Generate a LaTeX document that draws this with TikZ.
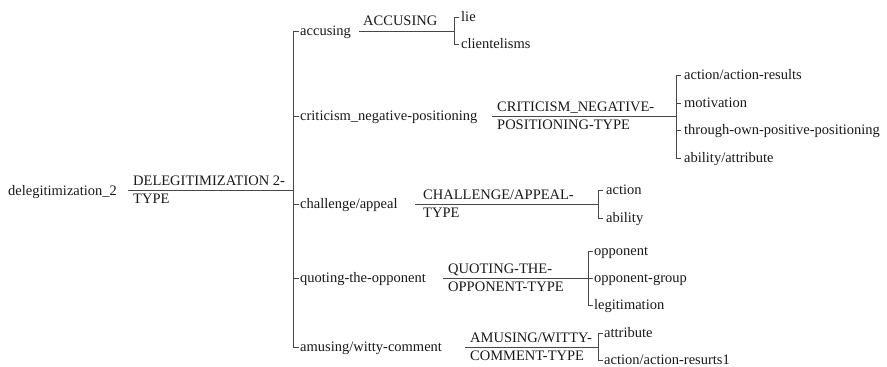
\documentclass[tikz,border=0pt]{standalone}
\usepackage{fontspec}
\setmainfont{Liberation Serif}
\begin{document}
\begin{tikzpicture}[x=1pt,y=-1pt,
  lbl/.style={anchor=base west, inner sep=0pt, font=\fontsize{14.5}{17}\selectfont, text=black!90},
  wire/.style={draw=black!72, line width=0.9pt},
]
\useasboundingbox (0,0) rectangle (887,367);

% ---- root ----
\node[lbl] (root) at (8,195) {delegitimization\_2};
\node[lbl] (rootA) at (133,185) {DELEGITIMIZATION 2-};
\node[lbl] (rootB) at (133,203) {TYPE};
\coordinate (r0) at (128,190);
\coordinate (t0) at (293,190);
\draw[wire] (r0) -- (t0);

% ---- trunk with its five branches ----
\coordinate (tA) at (293,31);
\coordinate (tB) at (293,116);
\coordinate (tC) at (293,204);
\coordinate (tD) at (293,278);
\coordinate (tE) at (293,347);
\draw[wire] ([xshift=6pt]tA) -- (tA) -- (tE) -- ([xshift=6pt]tE);
\draw[wire] (tB) -- ++(6,0);
\draw[wire] (tC) -- ++(6,0);
\draw[wire] (tD) -- ++(6,0);

\node[lbl] (accusing) at (300,35.5) {accusing};
\node[lbl] (criticism) at (300,120.5) {criticism\_negative-positioning};
\node[lbl] (challenge) at (300,208.5) {challenge/appeal};
\node[lbl] (quoting) at (300,282.5) {quoting-the-opponent};
\node[lbl] (amusing) at (300,351.5) {amusing/witty-comment};

% ---- accusing ----
\coordinate (a0) at (359,31);
\coordinate (a1) at (454,31);
\draw[wire] (a0) -- (a1);
\node[lbl] (accA) at (363,25) {ACCUSING};
\coordinate (a1t) at (454,17);
\coordinate (a1b) at (454,44);
\draw[wire] ([xshift=5pt]a1t) -- (a1t) -- (a1b) -- ([xshift=5pt]a1b);
\node[lbl] (lie) at (461,21.5) {lie};
\node[lbl] (clientelisms) at (461,48.5) {clientelisms};

% ---- criticism ----
\coordinate (b0) at (492,116);
\coordinate (b1) at (676,116);
\draw[wire] (b0) -- (b1);
\node[lbl] (critA) at (497,111) {CRITICISM\_NEGATIVE-};
\node[lbl] (critB) at (497,129) {POSITIONING-TYPE};
\coordinate (b1t) at (676,75);
\coordinate (b1m) at (676,103);
\coordinate (b1n) at (676,130);
\coordinate (b1b) at (676,158);
\draw[wire] ([xshift=5pt]b1t) -- (b1t) -- (b1b) -- ([xshift=5pt]b1b);
\draw[wire] (b1m) -- ++(5,0);
\draw[wire] (b1n) -- ++(5,0);
\node[lbl] (actres) at (684,79.5) {action/action-results};
\node[lbl] (motivation) at (684,107.5) {motivation};
\node[lbl] (through) at (684,134.5) {through-own-positive-positioning};
\node[lbl] (abilattr) at (684,162.5) {ability/attribute};

% ---- challenge ----
\coordinate (c0) at (415,204);
\coordinate (c1) at (598,204);
\draw[wire] (c0) -- (c1);
\node[lbl] (chalA) at (423,199) {CHALLENGE/APPEAL-};
\node[lbl] (chalB) at (423,217) {TYPE};
\coordinate (c1t) at (598,190);
\coordinate (c1b) at (598,218);
\draw[wire] ([xshift=5pt]c1t) -- (c1t) -- (c1b) -- ([xshift=5pt]c1b);
\node[lbl] (action) at (606,194.5) {action};
\node[lbl] (ability) at (606,222.5) {ability};

% ---- quoting ----
\coordinate (d0) at (443,278);
\coordinate (d1) at (588,278);
\draw[wire] (d0) -- (d1);
\node[lbl] (quotA) at (448,273) {QUOTING-THE-};
\node[lbl] (quotB) at (448,291) {OPPONENT-TYPE};
\coordinate (d1t) at (588,251);
\coordinate (d1b) at (588,305);
\draw[wire] ([xshift=5pt]d1t) -- (d1t) -- (d1b) -- ([xshift=5pt]d1b);
\draw[wire] (d1) -- ++(5,0);
\node[lbl] (opponent) at (594,255.5) {opponent};
\node[lbl] (oppgroup) at (594,282.5) {opponent-group};
\node[lbl] (legit) at (594,309.5) {legitimation};

% ---- amusing ----
\coordinate (e0) at (465,347);
\coordinate (e1) at (598,347);
\draw[wire] (e0) -- (e1);
\node[lbl] (amusA) at (470,342) {AMUSING/WITTY-};
\node[lbl] (amusB) at (470,360) {COMMENT-TYPE};
\coordinate (e1t) at (598,333);
\coordinate (e1b) at (598,360);
\draw[wire] ([xshift=5pt]e1t) -- (e1t) -- (e1b) -- ([xshift=5pt]e1b);
\node[lbl] (attribute) at (604,337.5) {attribute};
\node[lbl] (actres1) at (604,364.5) {action/action-resurts1};
\end{tikzpicture}
\end{document}
